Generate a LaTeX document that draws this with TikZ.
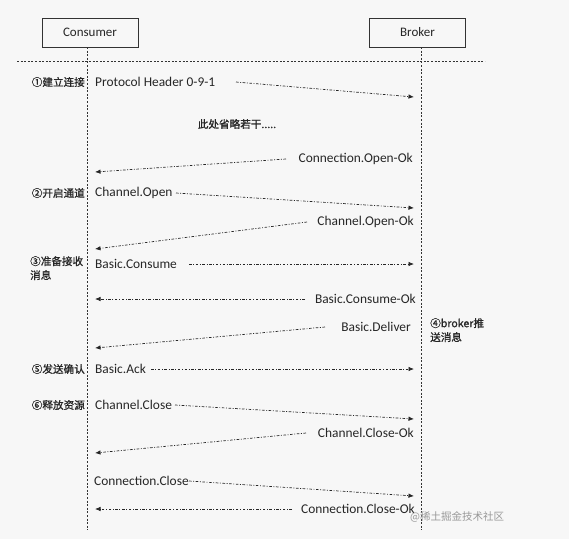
\documentclass[tikz,border=0pt]{standalone}
\usepackage{fontspec}
\setmainfont{Carlito}
\newfontfamily\cjk[FakeBold=1]{Noto Sans CJK SC}
\newfontfamily\cjkplain{Noto Sans CJK SC}
\usetikzlibrary{arrows.meta}
\begin{document}
\begin{tikzpicture}[x=1pt,y=-1pt,
  msg/.style={draw=black!85, line width=0.7pt, dash pattern=on 2.6pt off 1.6pt on 0.9pt off 1.6pt, -{Latex[length=5.5pt,width=4.5pt]}},
  life/.style={draw=black!80, line width=0.75pt, dash pattern=on 2pt off 1.6pt},
  actor/.style={draw=black!80, line width=0.75pt, minimum width=96pt, minimum height=29pt, inner sep=0pt, font=\fontsize{13}{15}\selectfont, text=black!85},
  lbl/.style={font=\fontsize{13.4}{15}\selectfont, text=black!85, inner sep=0pt},
  stepnum/.style={font=\cjk\fontsize{10.6}{14}\selectfont, text=black!85, inner sep=0pt, align=left}
]
\fill[black!3] (0,0) rectangle (569,539);
\useasboundingbox (0,0) rectangle (569,539);

% actors
\node[actor] (consumer) at (90,32.5) {Consumer};
\node[actor] (broker) at (417.5,32.5) {Broker};

% lifelines
\coordinate (ctop) at (87,47);
\coordinate (cbot) at (87,530);
\coordinate (btop) at (421,47);
\coordinate (bbot) at (421,530);
\draw[life] (ctop) -- (cbot);
\draw[life] (btop) -- (bbot);
\coordinate (sepL) at (17,61);
\coordinate (sepR) at (485,61);
\draw[life] (sepL) -- (sepR);

% step labels
\node[stepnum, anchor=east] (s1) at (85,82) {①建立连接};
\node[stepnum, anchor=east] (s2) at (85,193) {②开启通道};
\node[stepnum, anchor=north west] (s3) at (30,256) {③准备接收\\消息};
\node[stepnum, anchor=north west] (s4) at (430,318) {④broker推\\送消息};
\node[stepnum, anchor=east] (s5) at (85,369) {⑤发送确认};
\node[stepnum, anchor=east] (s6) at (85,405) {⑥释放资源};

% messages
\node[lbl, anchor=west] (m1) at (95,82) {Protocol Header 0-9-1};
\coordinate (m1a) at (236,82);
\coordinate (m1b) at (414,97);
\draw[msg] (m1a) -- (m1b);

\node[stepnum] (omit) at (237,124) {此处省略若干.....};

\node[lbl, anchor=east] (m2) at (413,159) {Connection.Open-Ok};
\coordinate (m2a) at (286,159);
\coordinate (m2b) at (95,172);
\draw[msg] (m2a) -- (m2b);

\node[lbl, anchor=west] (m3) at (95,193) {Channel.Open};
\coordinate (m3a) at (176,193);
\coordinate (m3b) at (414,208);
\draw[msg] (m3a) -- (m3b);

\node[lbl, anchor=east] (m4) at (414,222) {Channel.Open-Ok};
\coordinate (m4a) at (307,222);
\coordinate (m4b) at (95,249);
\draw[msg] (m4a) -- (m4b);

\node[lbl, anchor=west] (m5) at (95,264) {Basic.Consume};
\coordinate (m5a) at (189,264);
\coordinate (m5b) at (414,264);
\draw[msg] (m5a) -- (m5b);

\node[lbl, anchor=east] (m6) at (416,299) {Basic.Consume-Ok};
\coordinate (m6a) at (305,299);
\coordinate (m6b) at (95,299);
\draw[msg] (m6a) -- (m6b);

\node[lbl, anchor=east] (m7) at (411,327) {Basic.Deliver};
\coordinate (m7a) at (325,327);
\coordinate (m7b) at (95,348);
\draw[msg] (m7a) -- (m7b);

\node[lbl, anchor=west] (m8) at (95,369) {Basic.Ack};
\coordinate (m8a) at (151,369);
\coordinate (m8b) at (414,369);
\draw[msg] (m8a) -- (m8b);

\node[lbl, anchor=west] (m9) at (95,405) {Channel.Close};
\coordinate (m9a) at (175,405);
\coordinate (m9b) at (414,419);
\draw[msg] (m9a) -- (m9b);

\node[lbl, anchor=east] (m10) at (414,433) {Channel.Close-Ok};
\coordinate (m10a) at (306,433);
\coordinate (m10b) at (95,453);
\draw[msg] (m10a) -- (m10b);

\node[lbl, anchor=west] (m11) at (94,481) {Connection.Close};
\coordinate (m11a) at (189,481);
\coordinate (m11b) at (414,496);
\draw[msg] (m11a) -- (m11b);

\node[lbl, anchor=east] (m12) at (415,509) {Connection.Close-Ok};
\coordinate (m12a) at (292,509);
\coordinate (m12b) at (95,509);
\draw[msg] (m12a) -- (m12b);

% watermark
\node[inner sep=0pt, anchor=west, text=black!40, font=\cjkplain\fontsize{10.5}{12}\selectfont] (wm) at (410,517) {@稀土掘金技术社区};
\end{tikzpicture}
\end{document}
